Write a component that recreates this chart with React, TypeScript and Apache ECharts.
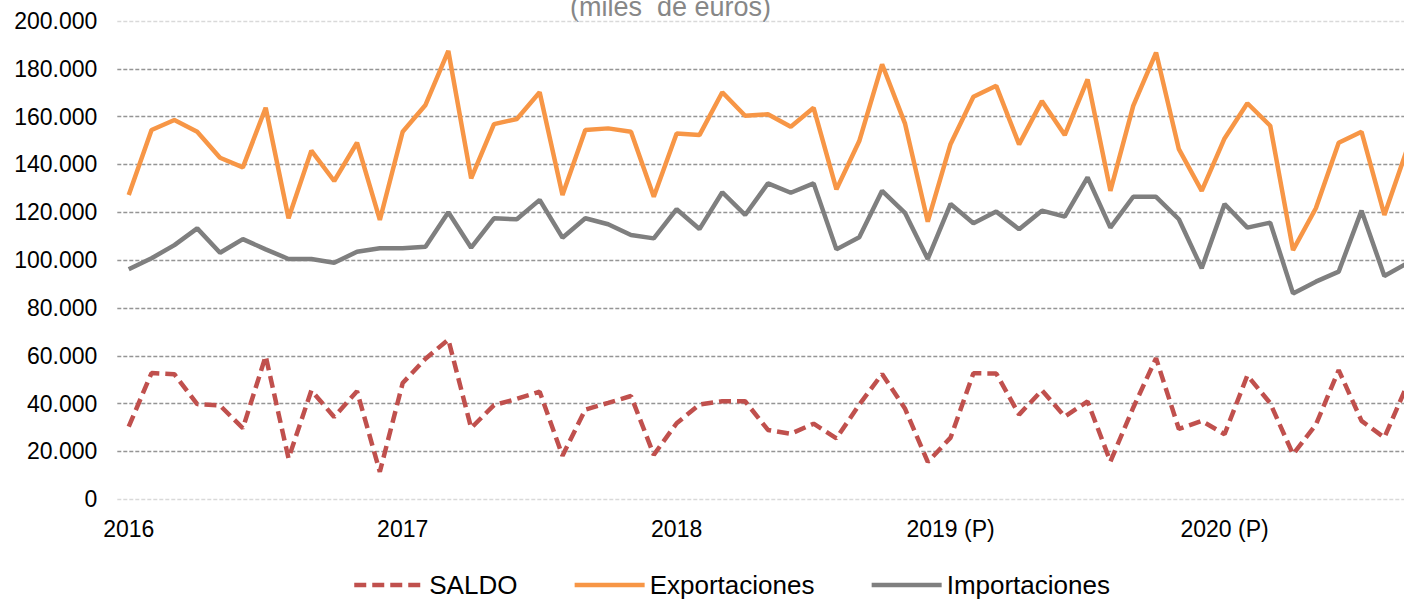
import React, { useEffect, useRef } from "react";
import * as echarts from "echarts";

const months: string[] = [];
for (let y = 2016; y <= 2020; y++) {
  for (let m = 1; m <= 12; m++) {
    if (y === 2020 && m > 9) break;
    months.push(`${y}-${String(m).padStart(2, "0")}`);
  }
}

const yearLabels: Record<string, string> = {
  "2016": "2016",
  "2017": "2017",
  "2018": "2018",
  "2019": "2019 (P)",
  "2020": "2020 (P)",
};

const yTicks = [0, 20000, 40000, 60000, 80000, 100000, 120000, 140000, 160000, 180000, 200000];

// miles de euros (thousands)
const exportaciones = [
  127.2, 154.4, 158.6, 153.7, 142.8, 138.8, 163.7, 117.5, 145.8, 133.1, 149.1, 116.8,
  153.7, 164.9, 187.5, 134.2, 156.9, 159.0, 170.2, 127.2, 154.4, 155.1, 153.7, 126.5,
  153.0, 152.3, 170.2, 160.4, 161.0, 155.8, 163.7, 129.6, 149.8, 181.9, 157.2, 116.1,
  148.6, 168.3, 172.9, 148.4, 166.5, 152.3, 175.6, 129.0, 164.5, 186.8, 146.4, 129.0,
  150.9, 165.6, 156.2, 104.2, 121.7, 149.1, 153.7, 118.9, 146.5,
];

const importaciones = [
  96.2, 100.8, 106.3, 113.3, 103.1, 108.8, 104.5, 100.5, 100.5, 98.9, 103.5, 105.0,
  105.0, 105.6, 120.0, 105.2, 117.5, 117.1, 125.2, 109.4, 117.5, 115.0, 110.5, 109.1,
  121.3, 113.0, 128.4, 118.9, 132.1, 128.2, 132.1, 104.5, 109.6, 129.0, 119.8, 100.5,
  123.5, 115.4, 120.3, 112.9, 120.7, 118.2, 134.6, 113.6, 126.5, 126.5, 117.1, 96.6,
  123.5, 113.6, 115.7, 86.1, 91.0, 95.2, 120.7, 93.4, 98.7,
];

const saldo = [
  30.4, 52.8, 52.3, 39.8, 39.2, 29.7, 59.9, 17.1, 45.5, 34.4, 45.2, 11.5,
  48.6, 58.8, 66.8, 29.8, 39.4, 42.0, 45.0, 18.2, 37.5, 40.3, 43.2, 18.6,
  31.8, 39.6, 41.0, 41.0, 29.0, 27.4, 31.6, 25.5, 39.6, 52.4, 38.0, 15.6,
  25.8, 52.7, 52.6, 35.4, 45.6, 34.6, 40.9, 15.8, 38.3, 59.0, 29.4, 32.8,
  27.2, 51.8, 40.2, 18.8, 31.2, 54.0, 32.8, 25.8, 47.8,
];

const toEuros = (arr: number[]) => arr.map((v) => Math.round(v * 1000));

const fmtThousands = (v: number) =>
  v === 0 ? "0" : String(v).replace(/\B(?=(\d{3})+(?!\d))/g, ".");

export default function App() {
  const ref = useRef<HTMLDivElement>(null);

  useEffect(() => {
    if (!ref.current) return;
    const chart = echarts.init(ref.current, undefined, { renderer: "svg" });
    const font = "'Liberation Sans', Arial, sans-serif";
    const gridColors = yTicks.map((t, i) =>
      i === 0 || i === yTicks.length - 1 ? "#d9d9d9" : "#959595"
    );
    chart.setOption({
      animation: false,
      backgroundColor: "#ffffff",
      textStyle: { fontFamily: font },
      graphic: [
        {
          type: "text",
          left: 570,
          top: -7,
          style: {
            text: "(miles  de euros)",
            fontSize: 27,
            fontFamily: font,
            fill: "#878787",
          },
        },
      ],
      grid: { left: 117.3, right: 0.4, top: 21, bottom: 101.7, containLabel: false },
      legend: {
        left: 347,
        top: 567,
        itemWidth: 70,
        itemHeight: 14,
        itemGap: 55,
        itemStyle: { opacity: 0 },
        lineStyle: { width: 4.5 },
        textStyle: { fontSize: 26, color: "#000", fontFamily: font },
        data: ["SALDO", "Exportaciones", "Importaciones"],
      },
      xAxis: {
        type: "category",
        data: months,
        boundaryGap: true,
        axisLine: { show: false },
        axisTick: { show: false },
        axisLabel: {
          interval: 11,
          margin: 18,
          fontSize: 23,
          color: "#000",
          fontFamily: font,
          formatter: (v: string) => {
            const [y, m] = v.split("-");
            return m === "01" ? yearLabels[y] : "";
          },
        },
      },
      yAxis: {
        type: "value",
        min: 0,
        max: 200000,
        interval: 20000,
        axisLine: { show: false },
        axisTick: { show: false },
        axisLabel: {
          margin: 20,
          fontSize: 23,
          color: "#000",
          fontFamily: font,
          formatter: (v: number) => fmtThousands(v),
        },
        splitLine: {
          show: true,
          lineStyle: { color: gridColors, width: 1.3, type: [4, 2] },
        },
      },
      series: [
        {
          name: "SALDO",
          type: "line",
          data: toEuros(saldo),
          symbol: "none",
          z: 3,
          lineStyle: { color: "#C0504D", width: 4.5, type: [12, 6] },
          itemStyle: { color: "#C0504D" },
        },
        {
          name: "Exportaciones",
          type: "line",
          data: toEuros(exportaciones),
          symbol: "none",
          z: 2,
          lineStyle: { color: "#F79646", width: 4.5 },
          itemStyle: { color: "#F79646" },
        },
        {
          name: "Importaciones",
          type: "line",
          data: toEuros(importaciones),
          symbol: "none",
          z: 2,
          lineStyle: { color: "#7F7F7F", width: 4.5 },
          itemStyle: { color: "#7F7F7F" },
        },
      ],
    });
    return () => chart.dispose();
  }, []);

  return (
    <div
      style={{ position: "fixed", left: 0, top: 0, width: 1404, height: 601, overflow: "hidden", background: "#fff" }}
    >
      <div ref={ref} style={{ position: "absolute", left: 0, top: 0, width: 1419, height: 601 }} />
    </div>
  );
}
